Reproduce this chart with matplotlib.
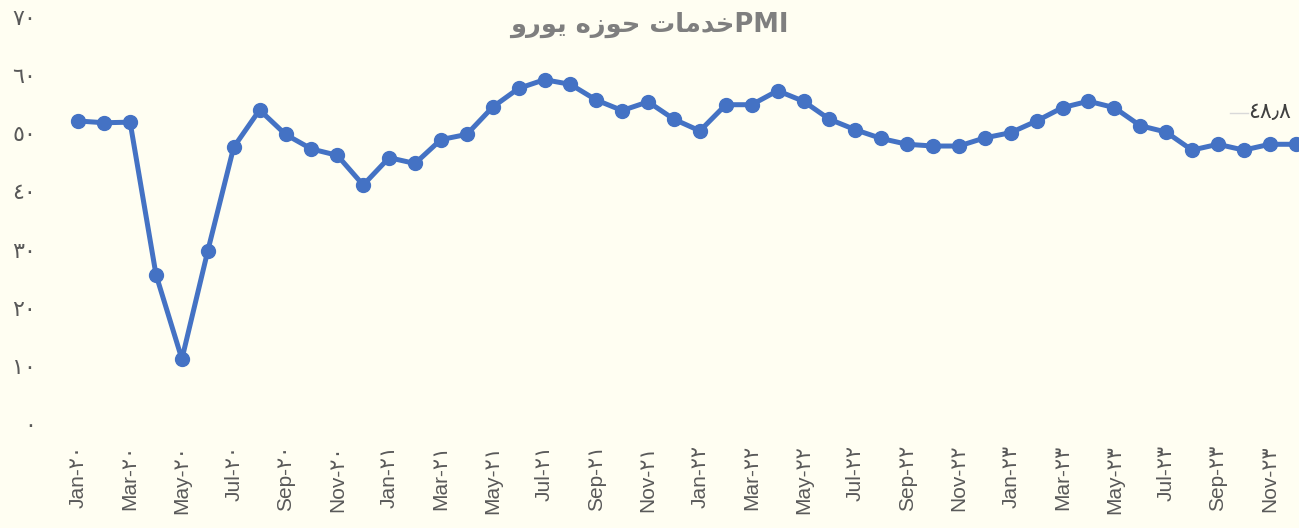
import numpy as np
import matplotlib
matplotlib.use("Agg")
import matplotlib.pyplot as plt
from matplotlib.transforms import ScaledTranslation

# Eurozone services PMI, monthly
months = ["Jan", "Feb", "Mar", "Apr", "May", "Jun",
          "Jul", "Aug", "Sep", "Oct", "Nov", "Dec"]
years = [20, 21, 22, 23]
pmi = [52.8, 52.5, 52.6, 26.4, 11.9, 30.5, 48.3, 54.7, 50.5, 48.0, 46.9, 41.8,
       46.5, 45.5, 49.6, 50.5, 55.2, 58.4, 59.9, 59.1, 56.4, 54.6, 56.1, 53.1,
       51.1, 55.6, 55.6, 58.0, 56.2, 53.1, 51.3, 49.8, 48.8, 48.5, 48.5, 49.9,
       50.8, 52.8, 55.1, 56.2, 55.1, 52.0, 50.9, 47.8, 48.8, 47.8, 48.8, 48.8]
y_ticks = [0, 10, 20, 30, 40, 50, 60, 70]
last_label = "\u0664\u0668\u066b\u0668"   # ٤٨٫٨

# "PMI خدمات حوزه یورو" written in visual order with presentation forms,
# because matplotlib does no arabic shaping / bidi
w_euro = "\ufeed\ufead\ufeee\ufef3"          # یورو
w_area = "\ufee9\ufeaf\ufeee\ufea3"          # حوزه
w_serv = "\ufe95\ufe8e\ufee3\ufeaa\ufea7"    # خدمات
title = w_euro + " " + w_area + " " + w_serv + "PMI"

ar_digits = "\u0660\u0661\u0662\u0663\u0664\u0665\u0666\u0667\u0668\u0669"
def to_ar(n):
    return "".join(ar_digits[int(c)] for c in str(n))

labels = [m + "-" + to_ar(y) for y in years for m in months]
x = np.arange(len(pmi))

bg = "#fffef2"
blue = "#4472c4"
grey = "#595959"
fonts = ["Liberation Sans", "DejaVu Sans"]

W, H = 1299, 528
fig = plt.figure(figsize=(W / 100, H / 100), dpi=100, facecolor=bg)
x0, x_step = 78.3, 25.9
left = x0 - 0.5 * x_step
y_zero, y_top = 428.3, 20.9
ax = fig.add_axes([left / W, 1 - y_zero / H, (W - left) / W, (y_zero - y_top) / H])
ax.set_facecolor(bg)
ax.set_xlim(-0.5, (W - x0) / x_step)
ax.set_ylim(0, 70)

ax.plot(x, pmi, color=blue, lw=3.6, marker="o", ms=10, clip_on=False,
        solid_joinstyle="round")

for s in ax.spines.values():
    s.set_visible(False)

ax.set_yticks(y_ticks)
ax.set_yticklabels([to_ar(v) for v in y_ticks], family=fonts, fontsize=16, color=grey)
ax.tick_params(axis="y", length=0, pad=21)
shift = ScaledTranslation(0, 3 / 72, fig.dpi_scale_trans)
for t in ax.get_yticklabels():
    t.set_transform(t.get_transform() + shift)

ax.set_xticks(x[::2])
ax.set_xticklabels(labels[::2], rotation=90, family=fonts, fontsize=15, color=grey)
ax.tick_params(axis="x", length=0, pad=12)

# data label of the last point with its short leader line
px, py = ax.transData.transform((x[-1], pmi[-1]))
ly = H - 112.7
fig.add_artist(plt.Line2D([(px - 66) / W, (px - 48) / W], [ly / H, ly / H],
                          color="#d9d9d9", lw=1))
fig.text((px - 47) / W, ly / H, last_label, family=fonts, fontsize=16,
         color="#404040", ha="left", va="center")

fig.text(0.5, 1 - 25 / H, title, family="DejaVu Sans", fontweight="bold",
         fontsize=18.5, color="#7f7f7f", ha="center", va="center")

fig.savefig("out.png", dpi=100, facecolor=bg)
